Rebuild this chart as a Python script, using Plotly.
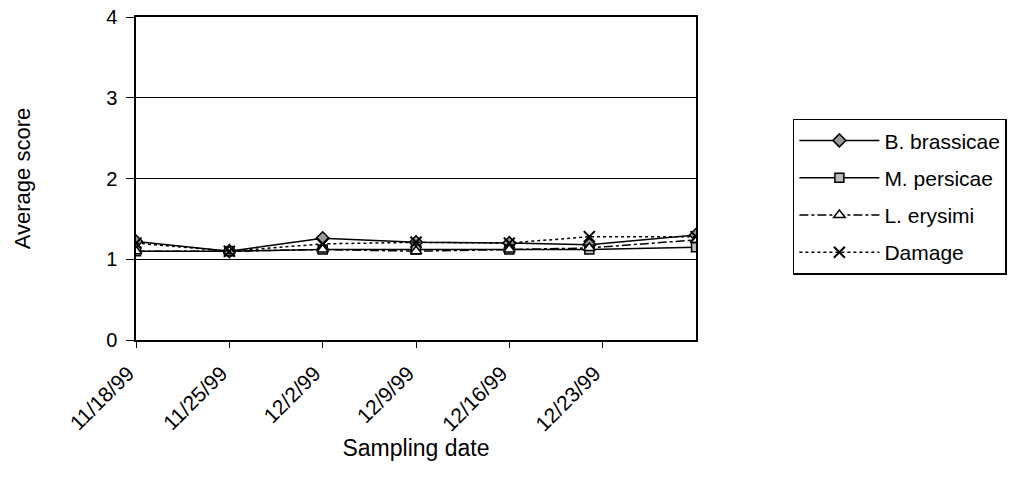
import plotly.graph_objects as go

dates = ["1999-11-18", "1999-11-25", "1999-12-02", "1999-12-09", "1999-12-16", "1999-12-22", "1999-12-30"]
b_brassicae = [1.22, 1.10, 1.26, 1.21, 1.20, 1.18, 1.30]
m_persicae = [1.10, 1.10, 1.12, 1.12, 1.12, 1.12, 1.15]
l_erysimi = [1.10, 1.10, 1.12, 1.10, 1.12, 1.14, 1.24]
damage = [1.20, 1.10, 1.19, 1.21, 1.20, 1.28, 1.28]

tick_dates = ["1999-11-18", "1999-11-25", "1999-12-02", "1999-12-09", "1999-12-16", "1999-12-23"]
tick_labels = ["11/18/99", "11/25/99", "12/2/99", "12/9/99", "12/16/99", "12/23/99"]

FONT = "Liberation Sans, Arial, sans-serif"

fig = go.Figure()
fig.add_trace(go.Scatter(x=dates, y=b_brassicae, name="B. brassicae", mode="lines+markers",
                         legendgroup="a",
                         line=dict(color="black", width=1.5),
                         marker=dict(symbol="diamond", size=10, color="#9a9a9a",
                                     line=dict(color="black", width=1.5))))
fig.add_trace(go.Scatter(x=dates, y=m_persicae, name="M. persicae", mode="lines+markers",
                         legendgroup="b",
                         line=dict(color="black", width=1.5),
                         marker=dict(symbol="square", size=9, color="#bdbdbd",
                                     line=dict(color="black", width=1.5))))
fig.add_trace(go.Scatter(x=dates, y=l_erysimi, name="L. erysimi", mode="lines+markers",
                         legendgroup="c",
                         line=dict(color="black", width=1.5, dash="dashdot"),
                         marker=dict(symbol="triangle-up", size=10, color="white",
                                     line=dict(color="black", width=1.5))))
fig.add_trace(go.Scatter(x=dates, y=damage, name="Damage", mode="lines+markers",
                         legendgroup="d",
                         line=dict(color="black", width=1.5, dash="dot"),
                         marker=dict(symbol="x-thin-open", size=11, color="black",
                                     line=dict(color="black", width=2))))

fig.update_layout(
    width=1014, height=477,
    margin=dict(l=136, r=318, t=17, b=137, autoexpand=False),
    paper_bgcolor="white", plot_bgcolor="white",
    font=dict(family=FONT, color="black", size=20),
    legend=dict(x=1.173, y=0.685, xanchor="left", yanchor="top",
                bordercolor="black", borderwidth=1.5, bgcolor="white",
                font=dict(size=21, family=FONT), traceorder="grouped",
                tracegroupgap=7, itemwidth=80),
    xaxis=dict(
        type="date",
        range=["1999-11-18", "1999-12-30"],
        tickvals=tick_dates, ticktext=tick_labels,
        tickangle=-45, ticks="outside", ticklen=6, tickcolor="black",
        ticklabelstandoff=5, ticklabelshift=-8,
        showgrid=False, showline=True, linecolor="black", linewidth=1.5,
        mirror=True, zeroline=False,
        tickfont=dict(size=21, family=FONT),
        title=dict(text="Sampling date", font=dict(size=23, family=FONT), standoff=0),
    ),
    yaxis=dict(
        range=[0, 4], tickvals=[0, 1, 2, 3, 4],
        ticks="outside", ticklen=8, tickcolor="black",
        ticklabelstandoff=5,
        showgrid=True, gridcolor="black", gridwidth=1,
        showline=True, linecolor="black", linewidth=1.5, mirror=True,
        zeroline=False,
        tickfont=dict(size=20, family=FONT),
        title=dict(text="Average score", font=dict(size=22, family=FONT), standoff=69),
    ),
)

fig.write_html("out.html")
